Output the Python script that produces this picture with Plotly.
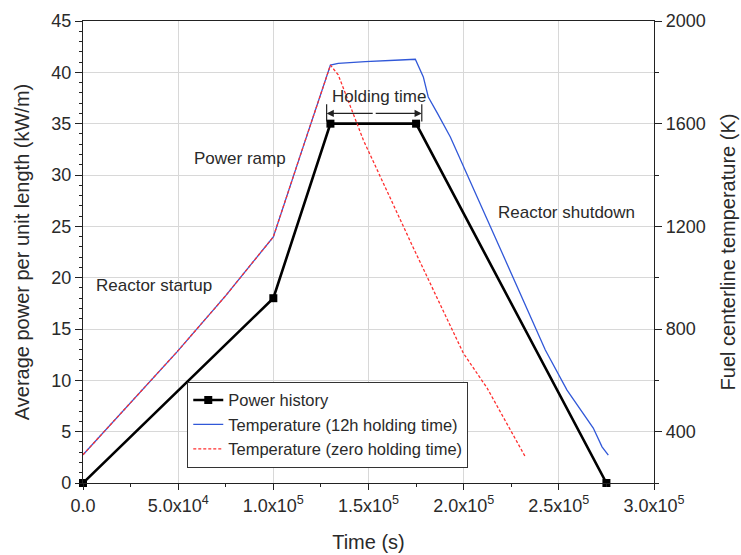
import plotly.graph_objects as go

# ---- data ----
power_t = [0, 1.0e5, 1.3e5, 1.75e5, 2.75e5]
power_kw = [0, 18, 35, 35, 0]

temp12_t = [0, 26.4e3, 49.4e3, 75e3, 94.7e3, 1.0e5, 1.15e5, 1.3e5, 134.1e3, 148.3e3,
            166.7e3, 174.6e3, 178.8e3, 181.4e3, 186.1e3, 193.0e3, 220e3, 242.9e3,
            254.3e3, 268.1e3, 272.7e3, 276.0e3]
temp12_k = [310, 523, 711, 930, 1107, 1159, 1495, 1828, 1835, 1842,
            1848, 1851, 1782, 1704, 1642, 1548, 1100, 718,
            562, 414, 341, 309]

temp0_t = [0, 26.4e3, 49.4e3, 75e3, 94.7e3, 1.0e5, 1.15e5, 1.3e5, 134.1e3, 141.5e3,
           147.3e3, 173e3, 199.8e3, 212.3e3, 223.5e3, 232.4e3]
temp0_k = [310, 523, 711, 930, 1107, 1159, 1495, 1828, 1790, 1645,
           1536, 1125, 706, 570, 418, 302]

x_tickvals = [0, 5e4, 1e5, 1.5e5, 2e5, 2.5e5, 3e5]
x_ticktext = ["0.0", "5.0x10<sup>4</sup>", "1.0x10<sup>5</sup>", "1.5x10<sup>5</sup>",
              "2.0x10<sup>5</sup>", "2.5x10<sup>5</sup>", "3.0x10<sup>5</sup>"]

# annotation anchors (data units)
labels = [("Reactor startup", 37.5e3, 19.2),
          ("Power ramp", 82.6e3, 31.6),
          ("Reactor shutdown", 254.2e3, 26.3),
          ("Holding time", 155.7e3, 37.6)]
HOLD_START, HOLD_END, HOLD_Y = 1.28e5, 1.78e5, 36.0

FONT = "Liberation Sans, Arial, sans-serif"
TXT = "#2a2a2a"

fig = go.Figure()
fig.add_trace(go.Scatter(x=temp12_t, y=temp12_k, yaxis="y2", mode="lines",
                         name="Temperature (12h holding time)", legendrank=2,
                         line=dict(color="#3158d8", width=1.3)))
fig.add_trace(go.Scatter(x=temp0_t, y=temp0_k, yaxis="y2", mode="lines",
                         name="Temperature (zero holding time)", legendrank=3,
                         line=dict(color="#ff2f2f", width=1.3, dash="3px,2px")))
fig.add_trace(go.Scatter(x=power_t, y=power_kw, mode="lines+markers",
                         name="Power history", legendrank=1, cliponaxis=False,
                         line=dict(color="black", width=2.6),
                         marker=dict(symbol="square", size=8, color="black")))

for text, x, y in labels:
    fig.add_annotation(x=x, y=y, xref="x", yref="y", text=text, showarrow=False,
                       font=dict(size=17, color=TXT, family=FONT))

mid = (HOLD_START + HOLD_END) / 2
for end in (HOLD_START, HOLD_END):
    fig.add_annotation(x=end, y=HOLD_Y, ax=mid, ay=HOLD_Y, xref="x", yref="y",
                       axref="x", ayref="y", text="", showarrow=True,
                       arrowhead=2, arrowsize=1.2, arrowwidth=1.2, arrowcolor="#222")
    fig.add_shape(type="line", x0=end, x1=end, y0=HOLD_Y - 0.8, y1=HOLD_Y + 0.9,
                  xref="x", yref="y", line=dict(color="#222", width=1.2))

axis_common = dict(showline=True, linecolor="#222", linewidth=1.2,
                   tickfont=dict(size=18, color=TXT, family=FONT),
                   ticks="outside", tickcolor="#222", zeroline=False, automargin=False)

fig.update_layout(
    width=741, height=555,
    margin=dict(l=83, r=87, t=21, b=72),
    paper_bgcolor="white", plot_bgcolor="white",
    font=dict(family=FONT, color=TXT),
    showlegend=True,
    legend=dict(x=0.1826, y=0.033, xanchor="left", yanchor="bottom",
                bgcolor="white", bordercolor="#333", borderwidth=1,
                font=dict(size=16.5, color=TXT, family=FONT),
                tracegroupgap=0, itemwidth=30),
    xaxis=dict(range=[0, 3e5], tickvals=x_tickvals, ticktext=x_ticktext,
               showgrid=True, gridcolor="#d8d8d8", gridwidth=1, mirror=True,
               ticklen=6, minor=dict(dtick=2.5e4, ticks="outside", ticklen=3, tickcolor="#222"),
               title=dict(text="Time (s)", font=dict(size=20, color=TXT, family=FONT), standoff=20),
               **axis_common),
    yaxis=dict(range=[0, 45], dtick=5, showgrid=True, gridcolor="#d8d8d8", gridwidth=1,
               ticklen=7, minor=dict(dtick=1, ticks="outside", ticklen=3, tickcolor="#222"),
               title=dict(text="Average power per unit length (kW/m)",
                          font=dict(size=20, color=TXT, family=FONT), standoff=16),
               **axis_common),
    yaxis2=dict(range=[200, 2000], tickvals=[400, 800, 1200, 1600, 2000], overlaying="y",
                side="right", showgrid=False, ticklen=7,
                minor=dict(dtick=200, ticks="outside", ticklen=4, tickcolor="#222"),
                title=dict(text="Fuel centerline temperature (K)",
                           font=dict(size=20, color=TXT, family=FONT), standoff=16),
                **axis_common),
)

fig.write_html("out.html")
